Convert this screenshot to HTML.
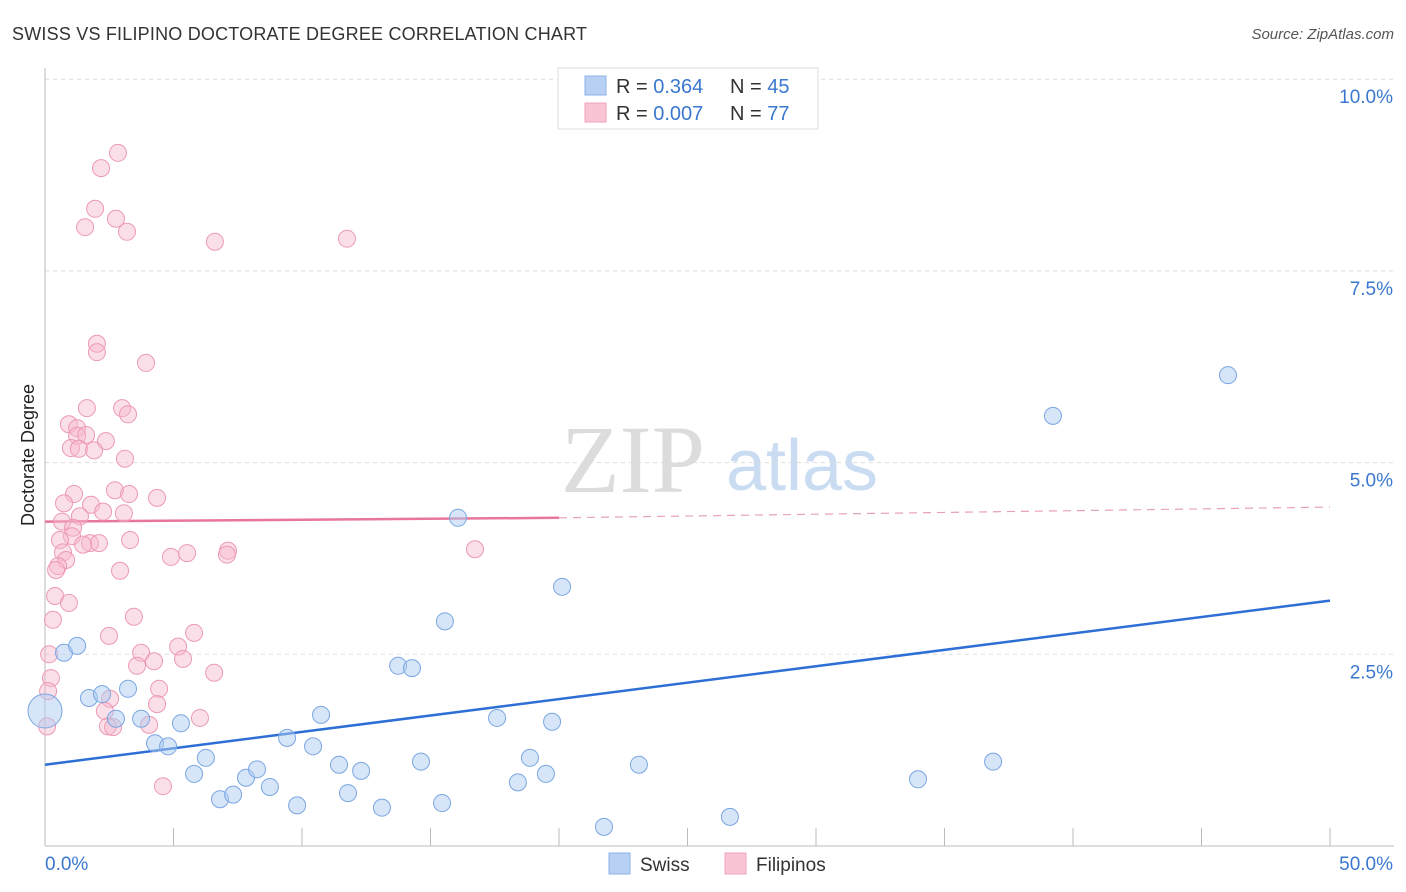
<!DOCTYPE html>
<html><head><meta charset="utf-8"><style>
body{margin:0;background:#fff;font-family:"Liberation Sans",sans-serif;}
svg{display:block}
</style></head><body>
<svg id="chart" width="1406" height="892">
<text x="12" y="40" font-size="18" fill="#333" textLength="575">SWISS VS FILIPINO DOCTORATE DEGREE CORRELATION CHART</text>
<text x="1394" y="39" font-size="15" fill="#555" font-style="italic" text-anchor="end">Source: ZipAtlas.com</text>
<text x="633" y="492" font-size="96" fill="#dcdcdc" font-family="Liberation Serif,serif" text-anchor="middle">ZIP</text>
<text x="802" y="490" font-size="72" fill="#c9dcf2" text-anchor="middle">atlas</text>
<text transform="translate(34,455) rotate(-90)" font-size="18" fill="#222" text-anchor="middle">Doctorate Degree</text>
<g id="grid"></g><g id="axes"></g><g id="lines"></g><g id="pts"></g>
<g>
<rect x="558" y="68" width="260" height="61" fill="#fff" stroke="#ddd"/>
<rect x="585" y="76" width="21" height="19" fill="#b7d0f3" stroke="#8db2e6"/>
<rect x="585" y="103" width="21" height="19" fill="#f9c4d3" stroke="#f0a3bb"/>
<text x="616" y="93" font-size="20" fill="#333">R = <tspan fill="#3a78d0">0.364</tspan></text>
<text x="730" y="93" font-size="20" fill="#333">N = <tspan fill="#3a78d0">45</tspan></text>
<text x="616" y="120" font-size="20" fill="#333">R = <tspan fill="#3a78d0">0.007</tspan></text>
<text x="730" y="120" font-size="20" fill="#333">N = <tspan fill="#3a78d0">77</tspan></text>
</g>
<g>
<rect x="609" y="853" width="21" height="21" fill="#b7d0f3" stroke="#8db2e6"/>
<text x="640" y="871" font-size="19" fill="#333">Swiss</text>
<rect x="725" y="853" width="21" height="21" fill="#f9c4d3" stroke="#f0a3bb"/>
<text x="756" y="871" font-size="19" fill="#333">Filipinos</text>
</g>
</svg>
<script>
const swissX=[0.74,1.25,0,1.71,2.22,2.76,3.23,3.74,4.28,4.79,5.29,5.80,6.26,6.81,7.32,7.82,8.25,8.75,9.42,9.81,10.43,10.74,11.44,11.79,12.30,13.11,13.74,14.28,14.63,15.45,15.56,16.07,17.59,18.40,18.87,19.49,19.73,20.12,21.75,23.11,26.65,33.97,36.89,39.22,46.03];
const swissY=[2.52,2.61,1.76,1.93,1.98,1.66,2.05,1.66,1.34,1.30,1.60,0.94,1.15,0.61,0.67,0.89,1.00,0.77,1.41,0.53,1.30,1.71,1.06,0.69,0.98,0.50,2.35,2.32,1.10,0.56,2.93,4.28,1.67,0.83,1.15,0.94,1.62,3.38,0.25,1.06,0.38,0.87,1.10,5.61,6.14];
const filX=[2.84,2.18,1.95,2.76,1.56,3.19,6.61,11.75,2.02,2.02,3.93,1.63,3.00,3.23,0.93,1.25,1.25,1.60,2.37,1.01,1.32,1.91,3.11,2.72,1.13,3.27,4.36,0.74,1.79,2.26,3.07,1.36,0.66,1.09,1.05,0.58,3.31,1.75,2.10,1.48,0.70,0.82,0.51,0.43,2.92,4.90,5.53,7.12,7.08,16.73,0.39,0.93,0.31,3.46,2.49,5.80,5.18,0.16,3.74,4.24,5.37,3.58,0.23,6.58,0.12,4.44,2.53,4.36,2.33,6.03,4.05,2.45,2.65,0.08,4.59];
const filY=[9.04,8.84,8.31,8.18,8.07,8.01,7.88,7.92,6.55,6.44,6.30,5.71,5.71,5.63,5.50,5.45,5.35,5.36,5.28,5.19,5.18,5.16,5.05,4.64,4.59,4.59,4.54,4.47,4.45,4.36,4.34,4.30,4.23,4.15,4.04,3.99,3.99,3.95,3.95,3.93,3.83,3.73,3.65,3.60,3.59,3.77,3.82,3.85,3.80,3.87,3.26,3.17,2.95,2.99,2.74,2.78,2.60,2.50,2.52,2.41,2.44,2.35,2.19,2.26,2.02,2.05,1.92,1.85,1.76,1.67,1.58,1.56,1.55,1.56,0.78];
const swissTrend=[1.06,3.20];
const filTrend=[4.23,4.28,4.42];
const yTicks=[2.5,5.0,7.5,10.0];
const xTicks=[0,5,10,15,20,25,30,35,40,45,50];
const sx=v=>45+v*25.7, sy=v=>846-v*76.68;
const NS="http://www.w3.org/2000/svg";
function mk(p,t,a){const e=document.createElementNS(NS,t);for(const k in a)e.setAttribute(k,a[k]);document.getElementById(p).appendChild(e);return e;}
yTicks.forEach(v=>{
 const l=mk('grid','line',{x1:45,x2:1394,y1:sy(v),y2:sy(v),stroke:'#ddd','stroke-dasharray':'4,4'});
 
 
 const t=mk('grid','text',{x:1393,y:sy(v)+24,'font-size':19,fill:'#3a78d0','text-anchor':'end'});
 t.textContent=v.toFixed(1)+'%';
 
 
});
mk('axes','line',{x1:45,x2:45,y1:68,y2:846,stroke:'#bbb'});
mk('axes','line',{x1:45,x2:1394,y1:846,y2:846,stroke:'#bbb'});
xTicks.forEach(v=>{
 const l=mk('axes','line',{x1:sx(v),x2:sx(v),y1:828,y2:846,stroke:'#bbb'});
 
 
});
[[0,'0.0%',45,'start'],[50,'50.0%',1393,'end']].forEach(d=>{
 const t=mk('axes','text',{x:d[2],y:870,'font-size':19,fill:'#3a78d0','text-anchor':d[3]});
 t.textContent=d[1];
 
 
});
let ln=mk('lines','line',{x1:sx(0),y1:sy(swissTrend[0]),x2:sx(50),y2:sy(swissTrend[1]),stroke:'#2e6fd6','stroke-width':2.5});


ln=mk('lines','line',{x1:sx(0),y1:sy(filTrend[0]),x2:sx(20),y2:sy(filTrend[1]),stroke:'#e8759c','stroke-width':2.5});


ln=mk('lines','line',{x1:sx(20),y1:sy(filTrend[1]),x2:sx(50),y2:sy(filTrend[2]),stroke:'#e8a0b8','stroke-width':1.2,'stroke-dasharray':'8,6'});


filX.forEach((x,i)=>{
 const c=mk('pts','circle',{cx:sx(x),cy:sy(filY[i]),r:8.5,fill:'rgba(247,183,203,0.45)',stroke:'#ec9ab4','stroke-width':1});
 
 
});
swissX.forEach((x,i)=>{
 const c=mk('pts','circle',{cx:sx(x),cy:sy(swissY[i]),r:i==2?17:8.5,fill:'rgba(174,203,240,0.5)',stroke:'#7aa6e2','stroke-width':1});
 
 
});
</script>
</body></html>
